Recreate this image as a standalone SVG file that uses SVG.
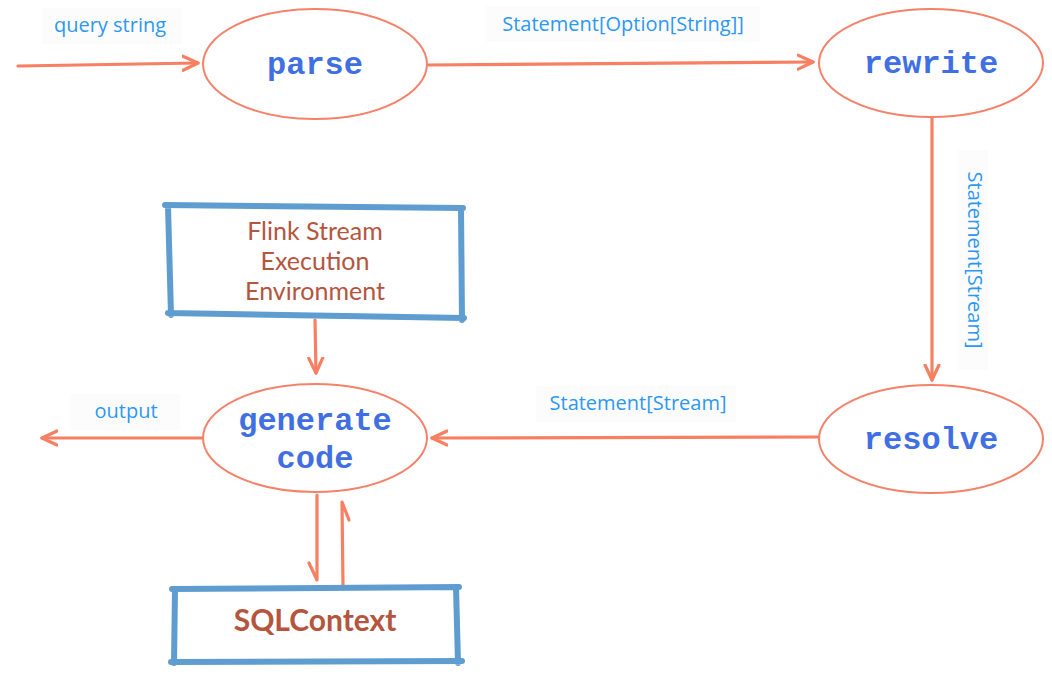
<svg xmlns="http://www.w3.org/2000/svg" width="1052" height="682" viewBox="0 0 1052 682">
<defs>
<style>
.ell{fill:#fff;stroke:#f4826a;stroke-width:2}
.op{font-family:"Liberation Mono",monospace;font-weight:bold;font-size:32px;fill:#3f6fe3;text-anchor:middle}
.lbl{font-family:"Open Sans","Liberation Sans",sans-serif;font-size:20px;fill:#2c98f3;text-anchor:middle}
.lblbg{fill:#fcfcfd}
.box{fill:none;stroke:#5f9dd0;stroke-width:6;stroke-linecap:round}
.boxt{font-family:Lato,"Open Sans",sans-serif;font-size:25px;fill:#b4553e;text-anchor:middle}
.con{fill:none;stroke:#f77f62;stroke-width:3.2;stroke-linecap:round;stroke-linejoin:round}
</style>
<marker id="ah" markerUnits="userSpaceOnUse" viewBox="-16 -9 20 18" markerWidth="20" markerHeight="18" refX="0" refY="0" orient="auto">
<path d="M-15,-7 L0,0 L-15,7" fill="none" stroke="#f77f62" stroke-width="3.2" stroke-linecap="round" stroke-linejoin="round"/>
</marker>
</defs>
<rect width="1052" height="682" fill="#fff"/>

<g id="labels">
<rect class="lblbg" x="42" y="8" width="140" height="36"/>
<text class="lbl" x="110" y="32">query string</text>
<rect class="lblbg" x="486" y="6" width="274" height="36"/>
<text class="lbl" x="623" y="31">Statement[Option[String]]</text>
<rect class="lblbg" x="958" y="150" width="30" height="220"/>
<text class="lbl" transform="translate(968,260) rotate(90)">Statement[Stream]</text>
<rect class="lblbg" x="536" y="386" width="200" height="36"/>
<text class="lbl" x="638" y="410">Statement[Stream]</text>
<rect class="lblbg" x="70" y="394" width="110" height="36"/>
<text class="lbl" x="126" y="418">output</text>
</g>

<g id="connectors">
<path class="con" d="M18,66 L198,63" marker-end="url(#ah)"/>
<path class="con" d="M428,65 L813,62" marker-end="url(#ah)"/>
<path class="con" d="M932,118 L932,380" marker-end="url(#ah)"/>
<path class="con" d="M818,437 L432,438" marker-end="url(#ah)"/>
<path class="con" d="M203,438 L42,438" marker-end="url(#ah)"/>
<path class="con" d="M315,320 L316,373" marker-end="url(#ah)"/>
<path class="con" d="M317,495 L317,580 L309,563"/>
<path class="con" d="M343,586 L342,502 L349,520"/>
</g>

<g id="parse">
<ellipse class="ell" cx="315" cy="64" rx="112" ry="55"/>
<text class="op" x="315" y="74">parse</text>
</g>
<g id="rewrite">
<ellipse class="ell" cx="931" cy="63" rx="112" ry="54"/>
<text class="op" x="931" y="73">rewrite</text>
</g>
<g id="resolve">
<ellipse class="ell" cx="931" cy="439" rx="112" ry="54"/>
<text class="op" x="931" y="449">resolve</text>
</g>
<g id="generate">
<ellipse class="ell" cx="315" cy="438" rx="112" ry="54"/>
<text class="op" x="315" y="430">generate</text>
<text class="op" x="315" y="468">code</text>
</g>

<g id="flink">
<path class="box" d="M165,205 L463,208 M168,206 L171,315 M461,208 L462,320 M168,313 L464,318"/>
<text class="boxt" x="315" y="240">Flink Stream</text>
<text class="boxt" x="315" y="270">Execution</text>
<text class="boxt" x="315" y="300">Environment</text>
</g>
<g id="sqlcontext">
<path class="box" d="M172,589 L459,587 M175,590 L174,663 M456,587 L458,663 M171,662 L462,661"/>
<text class="boxt" x="315" y="631" style="font-weight:bold;font-size:30px">SQLContext</text>
</g>
</svg>
